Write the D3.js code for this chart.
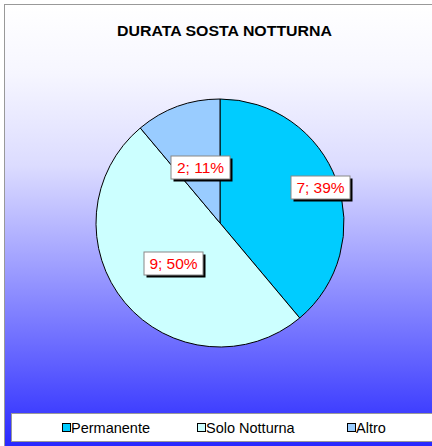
<!DOCTYPE html>
<html>
<head>
<meta charset="utf-8">
<script src="https://cdn.jsdelivr.net/npm/d3@7"></script>
<style>
  body { margin: 0; background: #fff; }
  svg { display: block; font-family: "Liberation Sans", Arial, sans-serif; }
</style>
</head>
<body>
<svg width="432" height="446"></svg>
<script>
var categories = ["Permanente", "Solo Notturna", "Altro"];
var values = [7, 9, 2];
var percents = ["39%", "50%", "11%"];
var colors = ["#00ccff", "#ccffff", "#99ccff"];

// where each label sits, as a fraction of the radius (Excel best fit)
var labelRadius = [0.86, 0.5, 0.48];

var svg = d3.select("svg"),
    width = +svg.attr("width"),
    height = +svg.attr("height");

var defs = svg.append("defs");
var grad = defs.append("linearGradient")
    .attr("id", "bg")
    .attr("x1", 0).attr("y1", 0).attr("x2", 0).attr("y2", 1);
[[0, "#ffffff"], [0.15, "#f6f6ff"], [0.35, "#dcdcff"], [0.55, "#a4a4ff"],
 [0.78, "#6060ff"], [0.92, "#3535ff"], [1, "#1a1aff"]].forEach(function(s) {
  grad.append("stop").attr("offset", s[0]).attr("stop-color", s[1]);
});

// chart area
svg.append("rect")
    .attr("x", 4.5).attr("y", 4.5)
    .attr("width", 460).attr("height", 460)
    .attr("fill", "url(#bg)")
    .attr("stroke", "#999")
    .attr("stroke-width", 1);

svg.append("text")
    .attr("x", 117).attr("y", 36)
    .attr("font-size", 14)
    .attr("font-weight", "bold")
    .attr("fill", "#000")
    .attr("textLength", 215)
    .attr("lengthAdjust", "spacingAndGlyphs")
    .text("DURATA SOSTA NOTTURNA");

var cx = 220, cy = 223, r = 124;

var pie = d3.pie().sort(null).value(function(d) { return d; });
var arcs = pie(values);
var arc = d3.arc().innerRadius(0).outerRadius(r);

var g = svg.append("g").attr("transform", "translate(" + cx + "," + cy + ")");

g.selectAll("path")
    .data(arcs)
    .enter().append("path")
      .attr("d", arc)
      .attr("fill", function(d, i) { return colors[i]; })
      .attr("stroke", "#000")
      .attr("stroke-width", 1);

// data labels
var labels = g.selectAll("g.lab")
    .data(arcs)
    .enter().append("g")
      .attr("class", "lab")
      .attr("transform", function(d, i) {
        var a = (d.startAngle + d.endAngle) / 2;
        var rr = r * labelRadius[i];
        return "translate(" + Math.round(Math.sin(a) * rr) + "," + Math.round(-Math.cos(a) * rr) + ")";
      });

labels.each(function(d, i) {
  var lg = d3.select(this);
  var txt = values[i] + "; " + percents[i];
  var w = 59, h = 23;
  lg.append("rect")
      .attr("x", -w / 2 + 3).attr("y", -h / 2 + 3)
      .attr("width", w).attr("height", h)
      .attr("fill", "#000");
  lg.append("rect")
      .attr("x", -w / 2 + 0.5).attr("y", -h / 2 + 0.5)
      .attr("width", w).attr("height", h)
      .attr("fill", "#fff")
      .attr("stroke", "#888")
      .attr("stroke-width", 1);
  lg.append("text")
      .attr("x", 0.5).attr("y", 6)
      .attr("text-anchor", "middle")
      .attr("font-size", 15.5)
      .attr("fill", "#ff0000")
      .text(txt);
});

// legend
svg.append("rect")
    .attr("x", 11.5).attr("y", 413.5)
    .attr("width", 440).attr("height", 28)
    .attr("fill", "#fff")
    .attr("stroke", "#999");

var legendX = [62, 197, 347];
var leg = svg.selectAll("g.leg")
    .data(categories)
    .enter().append("g")
      .attr("class", "leg")
      .attr("transform", function(d, i) { return "translate(" + legendX[i] + ",428)"; });

leg.append("rect")
    .attr("x", 0.5).attr("y", -4.5)
    .attr("width", 8).attr("height", 8)
    .attr("fill", function(d, i) { return colors[i]; })
    .attr("stroke", "#000");

leg.append("text")
    .attr("x", 9).attr("y", 5)
    .attr("font-size", 14.5)
    .attr("fill", "#000")
    .text(function(d) { return d; });
</script>
</body>
</html>
